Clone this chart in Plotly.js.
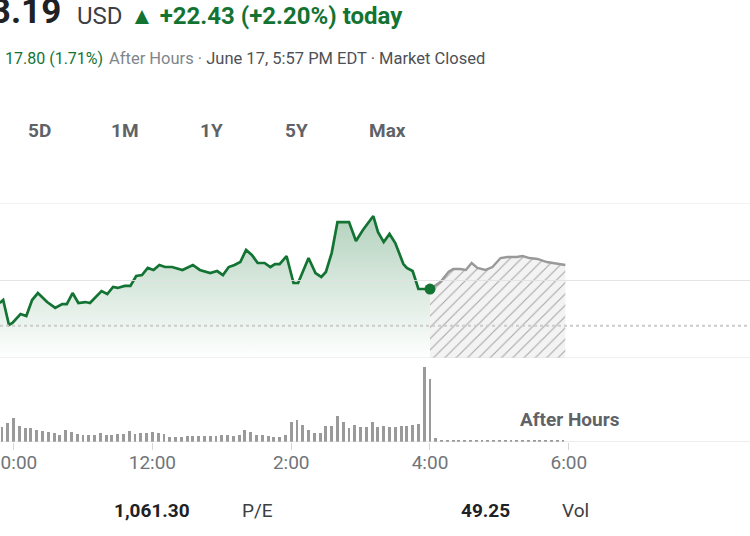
<!DOCTYPE html>
<html>
<head>
<meta charset="utf-8">
<script src="https://cdn.plot.ly/plotly-3.0.1.min.js"></script>
<style>
  html, body { margin: 0; padding: 0; background: #ffffff; }
  #chart { width: 750px; height: 536px; }
</style>
</head>
<body>
<div id="chart"></div>
<script>
// ---------------- DATA ----------------
const tradeDate = '2024-06-17';
const lastPrice = '1,043.19';
const currency = 'USD';
const dayChange = '▲ +22.43 (+2.20%) today';
const ahChange = '17.80 (1.71%)';
const ahStatus = 'After Hours · ';
const ahStamp = 'June 17, 5:57 PM EDT · Market Closed';
const rangeLabels = ['5D', '1M', '1Y', '5Y', 'Max'];
const previousClose = 1020.76;
const priceGrid = [1000, 1050, 1100];

// regular session price line
const priceTimes = ["09:48","09:51","09:56","09:59","10:06","10:11","10:16","10:21","10:29","10:36","10:42","10:46","10:51","10:56",
  "11:02","11:06","11:16","11:21","11:26","11:30","11:36","11:41","11:46","11:51","11:56",
  "12:01","12:06","12:11","12:17","12:26","12:35","12:41","12:50","12:56",
  "13:01","13:06","13:11","13:16","13:21","13:26","13:31","13:37","13:42","13:46","13:50","13:56",
  "14:02","14:06","14:15","14:21","14:26","14:30","14:35","14:40","14:50","14:56",
  "15:02","15:11","15:15","15:20","15:25","15:30","15:37","15:40","15:45","15:50","15:58","16:00"];
const prices = [1035.5,1037.4,1021.3,1022.6,1028.4,1027.1,1037.4,1041.9,1036.1,1032.3,1034.8,1034.8,1041.9,1035.5,
  1036.1,1035.5,1043.2,1041.3,1045.8,1045.2,1046.5,1046.5,1052.9,1053.5,1058.1,
  1056.8,1060.0,1058.7,1058.7,1056.8,1060.0,1056.8,1054.8,1056.1,
  1053.5,1058.7,1060.0,1061.9,1069.7,1066.5,1061.3,1061.3,1058.7,1060.6,1060.6,1065.8,
  1048.4,1048.4,1064.5,1054.8,1052.3,1055.5,1067.7,1087.7,1087.7,1075.5,
  1082.6,1091.6,1081.3,1074.8,1080.0,1074.2,1060.6,1058.1,1056.1,1044.5,1044.5,1044.5];

// after-hours price line
const ahTimes = ["16:00","16:09","16:16","16:20","16:26","16:31","16:36","16:41","16:48","16:54",
  "17:01","17:07","17:15","17:20","17:26","17:33","17:41","17:50","17:57"];
const ahPrices = [1044.5,1049.0,1055.5,1057.4,1057.4,1056.8,1061.3,1058.1,1056.8,1058.7,
  1064.5,1065.2,1065.2,1065.8,1064.5,1063.9,1061.9,1060.6,1060.0];

// 5-minute volume bars (thousand shares)
const volTimes = ["09:45","09:50","09:55","10:00","10:05","10:10","10:15","10:20","10:25","10:30","10:35","10:40","10:45","10:50","10:55",
  "11:00","11:05","11:10","11:15","11:20","11:25","11:30","11:35","11:40","11:45","11:50","11:55",
  "12:00","12:05","12:10","12:15","12:20","12:25","12:30","12:35","12:40","12:45","12:50","12:55",
  "13:00","13:05","13:10","13:15","13:20","13:25","13:30","13:35","13:40","13:45","13:50","13:55",
  "14:00","14:05","14:10","14:15","14:20","14:25","14:30","14:35","14:40","14:45","14:50","14:55",
  "15:00","15:05","15:10","15:15","15:20","15:25","15:30","15:35","15:40","15:45","15:50","15:55","16:00",
  "16:05","16:10","16:15","16:20","16:25","16:30","16:35","16:40","16:45","16:50","16:55",
  "17:00","17:05","17:10","17:15","17:20","17:25","17:30","17:35","17:40","17:45","17:50","17:55"];
const volumes = [14,15,19,23.3,15.5,14,14,12,11,9.3,9,
  6.5,12,9.5,7.5,6.3,6.3,6.3,9,6.3,6.3,
  8,8,11,8,8.8,9,9.3,8.3,7.3,5,
  5,5,5.7,5.7,5.7,5.7,5.7,5.7,6.7,6.7,
  5.7,6.7,12,9.3,6.7,6.7,5.7,5,5,6.7,
  19.5,21.3,16.3,11.3,9,8.7,15.3,16,25.3,19.3,
  13.8,17,14.3,15,19.3,14.3,16,14.3,14.3,15.3,
  16,16.7,18,74.5,62.7,
  3.5,2,1.8,2,2,2,2,2,2,2,2,2,2,2,2,2,2,2,2,2,2,2,2];

const tickTimes = ["10:00","12:00","14:00","16:00","18:00"];
const tickLabels = ["10:00","12:00","2:00","4:00","6:00"];

const statLabels = ['1,061.30', 'P/E', '49.25', 'Vol'];

// ---------------- HELPERS ----------------
const W = 750, H = 536;
const ts = t => tradeDate + ' ' + t;
const px = x => x / W;
const py = y => 1 - y / H;
const FONT = 'Roboto, "Noto Sans", Arial, sans-serif';
const GREEN = '#137333';

// ---------------- TRACES ----------------
const traces = [
  {
    type: 'bar', x: volTimes.map(ts), y: volumes, xaxis: 'x', yaxis: 'y2',
    width: 150000, marker: {color: '#9a9a9a', line: {width: 0}}, hoverinfo: 'skip'
  },
  {
    type: 'scatter', mode: 'lines', x: priceTimes.map(ts), y: prices, xaxis: 'x', yaxis: 'y',
    line: {color: GREEN, width: 2.7, shape: 'linear'},
    fill: 'tozeroy',
    fillgradient: {type: 'vertical', start: 1000, stop: 1092,
      colorscale: [[0, 'rgba(19,115,51,0)'], [1, 'rgba(19,115,51,0.32)']]},
    hoverinfo: 'skip'
  },
  {
    type: 'scatter', mode: 'lines', x: ahTimes.map(ts), y: ahPrices, xaxis: 'x', yaxis: 'y',
    line: {color: '#999999', width: 2.4},
    fill: 'tozeroy',
    fillcolor: 'rgba(0,0,0,0)',
    fillpattern: {shape: '/', fgcolor: '#a8a8a8', bgcolor: '#f3f3f3', size: 8, solidity: 0.14},
    hoverinfo: 'skip'
  },
  {
    type: 'scatter', mode: 'markers', x: [ts(priceTimes[priceTimes.length - 1])], y: [prices[prices.length - 1]],
    xaxis: 'x', yaxis: 'y', marker: {color: GREEN, size: 11}, hoverinfo: 'skip', cliponaxis: false
  }
];

// ---------------- SHAPES ----------------
const shapes = [];
priceGrid.forEach(v => shapes.push({
  type: 'line', xref: 'paper', x0: 0, x1: 1, yref: 'y', y0: v, y1: v,
  line: {color: 'rgba(225,225,225,0.9)', width: 1}, layer: 'above'
}));
shapes.push({
  type: 'line', xref: 'paper', x0: 0, x1: 1, yref: 'y', y0: previousClose, y1: previousClose,
  line: {color: '#cccccc', width: 2, dash: '3px,3px'}, layer: 'above'
});
shapes.push({
  type: 'line', xref: 'paper', x0: 0, x1: 1, yref: 'y2', y0: 0, y1: 0,
  line: {color: '#e3e3e3', width: 1}, layer: 'below'
});

// ---------------- ANNOTATIONS ----------------
const ann = (text, x, y, size, opts) => Object.assign({
  text: text, xref: 'paper', yref: 'paper', x: px(x), y: py(y),
  xanchor: 'left', yanchor: 'middle', showarrow: false,
  font: {family: FONT, size: size, color: '#3c4043'}
}, opts || {});

const annotations = [
  ann('<b>' + lastPrice + '</b>', 63, 12, 35, {xanchor: 'right', font: {family: FONT, size: 35, color: '#202124'}}),
  ann(currency, 75, 16, 24, {font: {family: FONT, size: 24, color: '#3c4043'}}),
  ann('<b>' + dayChange + '</b>', 128, 16, 24, {font: {family: FONT, size: 24, color: GREEN}}),
  ann(ahChange, 3, 58, 16, {font: {family: FONT, size: 16, color: GREEN}}),
  ann(ahStatus + '<span style="color:#4d5156">' + ahStamp + '</span>', 107, 58, 16.5, {font: {family: FONT, size: 16.5, color: '#80868b'}}),
  ann('<b>After Hours</b>', 518, 419, 19, {font: {family: FONT, size: 19, color: '#5f6368'}}),
  ann('<b>' + statLabels[0] + '</b>', 112, 510, 19, {font: {family: FONT, size: 19, color: '#202124'}}),
  ann(statLabels[1], 240, 510, 19, {font: {family: FONT, size: 19, color: '#3c4043'}}),
  ann('<b>' + statLabels[2] + '</b>', 459, 510, 19, {font: {family: FONT, size: 19, color: '#202124'}}),
  ann(statLabels[3], 560, 510, 19, {font: {family: FONT, size: 19, color: '#3c4043'}})
];
const rangeCenters = [39, 125, 211, 296, 387];
rangeLabels.forEach((t, i) => annotations.push(
  ann('<b>' + t + '</b>', rangeCenters[i], 130, 19, {xanchor: 'center', font: {family: FONT, size: 19, color: '#5f6368'}})
));

// ---------------- LAYOUT ----------------
const layout = {
  width: W, height: H,
  margin: {l: 0, r: 0, t: 0, b: 0, pad: 0},
  paper_bgcolor: '#ffffff', plot_bgcolor: 'rgba(0,0,0,0)',
  showlegend: false, hovermode: false, bargap: 0,
  font: {family: FONT},
  xaxis: {
    type: 'date', anchor: 'y2', domain: [0, 1],
    range: [ts('09:48:15'), ts('20:36:40')],
    tickmode: 'array', tickvals: tickTimes.map(ts), ticktext: tickLabels,
    ticks: 'outside', ticklen: 7, tickwidth: 1, tickcolor: '#d6d6d6',
    ticklabeloverflow: 'allow', ticklabelstandoff: -4,
    tickfont: {family: FONT, size: 19, color: '#70757a'},
    showgrid: false, zeroline: false, showline: false, fixedrange: true
  },
  yaxis: {
    domain: [py(358), py(203)], range: [1000, 1100],
    showgrid: false, zeroline: false, showticklabels: false, showline: false, ticks: ''
  },
  yaxis2: {
    domain: [py(441.7), py(359.7)], range: [0, 82],
    showgrid: false, zeroline: false, showticklabels: false, showline: false, ticks: ''
  },
  shapes: shapes,
  annotations: annotations
};

Plotly.newPlot('chart', traces, layout, {staticPlot: true, displayModeBar: false});
</script>
</body>
</html>
